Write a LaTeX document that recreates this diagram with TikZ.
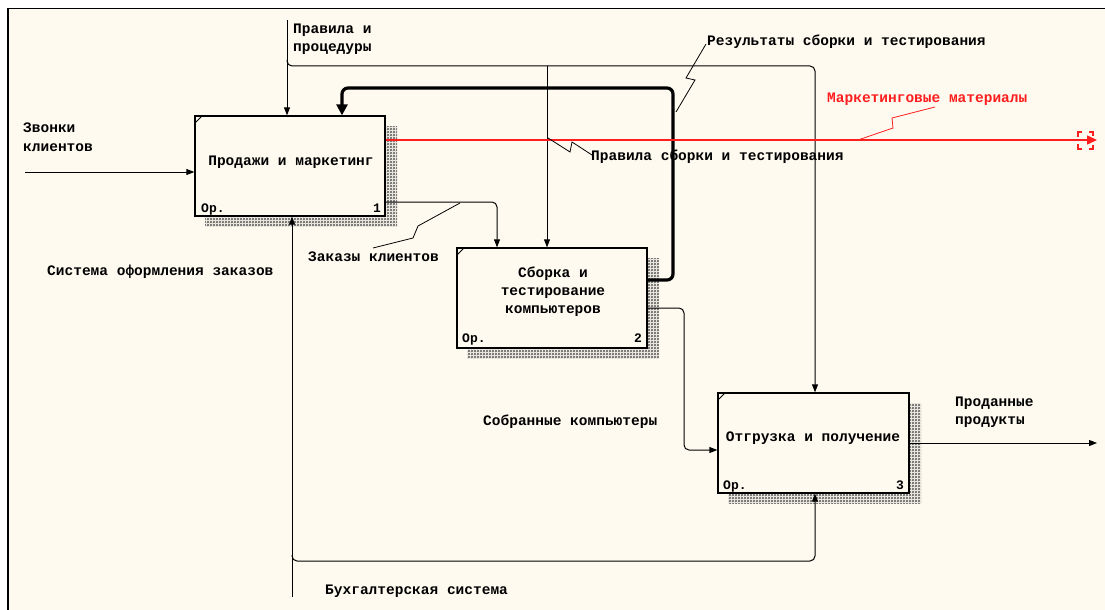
\documentclass[tikz,border=0pt]{standalone}
\usepackage{fontspec}
\setmainfont{Liberation Mono}
\usetikzlibrary{arrows.meta,patterns}
\definecolor{bg}{RGB}{254,250,240}
\definecolor{redl}{RGB}{255,30,30}
\pgfdeclarepatternformonly{dither}{\pgfqpoint{0pt}{0pt}}{\pgfqpoint{3pt}{3pt}}{\pgfqpoint{3pt}{3pt}}{%
  \pgfsetlinewidth{0.6pt}%
  \pgfpathmoveto{\pgfqpoint{0pt}{0pt}}\pgfpathlineto{\pgfqpoint{3pt}{3pt}}%
  \pgfpathmoveto{\pgfqpoint{0pt}{3pt}}\pgfpathlineto{\pgfqpoint{3pt}{0pt}}%
  \pgfusepath{stroke}}
\begin{document}
\begin{tikzpicture}[x=1pt,y=-1pt,
  lbl/.style={font=\fontsize{14.5}{18}\selectfont\bfseries, inner sep=0pt, anchor=base west},
  boxt/.style={font=\fontsize{14.5}{18}\selectfont\bfseries, inner sep=0pt, anchor=base},
  op/.style={font=\fontsize{13}{15}\selectfont\bfseries, inner sep=0pt, anchor=base west},
  num/.style={font=\fontsize{13}{15}\selectfont\bfseries, inner sep=0pt, anchor=base east},
  box/.style={draw, line width=1.3pt, fill=bg, minimum width=190pt, minimum height=100pt, inner sep=0pt},
  shadowbox/.style={pattern=dither, pattern color=black!65},
  arr/.style={line width=1pt, -{Triangle[length=8pt,width=6pt]}},
  thickarr/.style={line width=3.2pt, rounded corners=6pt, -{Triangle[length=11pt,width=11pt]}},
  redarr/.style={line width=1.4pt, draw=redl, fill=redl, -{Triangle[length=10pt,width=9pt,fill=redl]}},
  bracket/.style={draw=redl, line width=1.4pt},
  leader/.style={line width=0.8pt},
  tick/.style={line width=0.8pt}
]
\useasboundingbox (0,0) rectangle (1105,610);
\fill[white] (0,0) rectangle (1105,610);
\fill[bg] (8,8) rectangle (1105,610);
\draw[line width=1.6pt] (7,8.5) -- (1105,8.5);
\draw[line width=1.6pt] (8,8) -- (8,610);

% shadows
\fill[shadowbox] (205,126) rectangle (397,226);
\fill[shadowbox] (467,258) rectangle (659,358);
\fill[shadowbox] (728,403) rectangle (921,503);

% boxes
\node[box] (b1) at (290,166) {};
\node[box] (b2) at (552,298) {};
\node[box, minimum width=191pt] (b3) at (813.5,443) {};
\draw[tick] (195,123) -- (202,116);
\draw[tick] (457,255) -- (464,248);
\draw[tick] (718,400) -- (725,393);

\node[boxt] (t1) at (291,165) {Продажи и маркетинг};
\node[boxt] (t2a) at (553,277) {Сборка и};
\node[boxt] (t2b) at (553,295) {тестирование};
\node[boxt] (t2c) at (553,313) {компьютеров};
\node[boxt] (t3) at (813,441) {Отгрузка и получение};
\node[op] (o1) at (201,212) {Ор.};
\node[num] (n1) at (381,212) {1};
\node[op] (o2) at (462,342) {Ор.};
\node[num] (n2) at (642,342) {2};
\node[op] (o3) at (723,489) {Ор.};
\node[num] (n3) at (904,489) {3};

% coordinates for free ends
\coordinate (zv) at (25,172);
\coordinate (pp) at (287,20);
\coordinate (ppb) at (287,60);
\coordinate (cb2) at (547,66);
\coordinate (mb) at (292,597);
\coordinate (mbb) at (292,555);
\coordinate (redend) at (1097,140);
\coordinate (sold) at (1097,443);

% inputs
\draw[arr] (zv) -- (zv -| b1.west);
% controls
\draw[arr] (pp) -- (pp |- b1.north);
\draw[arr, rounded corners=5pt, line width=1pt] (ppb) -- (287,66) -- (815,66) -- (815,393 |- b3.north);
\draw[arr] (cb2) -- (cb2 |- b2.north);
% feedback
\draw[thickarr] (b2.east |- 0,280) -- (673,280) -- (673,88) -- (342,88) -- (342,88 |- b1.north);
% red output
\draw[redarr] (b1.east |- 0,140) -- (redend);
\draw[bracket] (1082,132) -- (1078,132) -- (1078,137);
\draw[bracket] (1082,149) -- (1078,149) -- (1078,144);
\draw[bracket] (1089,132) -- (1093,132) -- (1093,136);
\draw[bracket] (1089,149) -- (1093,149) -- (1093,145);
% orders
\draw[arr, rounded corners=5pt] (b1.east |- 0,202) -- (497,202) -- (497,202 |- b2.north);
% assembled computers
\draw[arr, rounded corners=5pt] (b2.east |- 0,308) -- (684,308) -- (684,450) -- (b3.west |- 0,450);
% sold products
\draw[arr] (b3.east |- 0,443) -- (sold);
% mechanisms
\draw[arr] (mb) -- (mb |- b1.south);
\draw[arr, rounded corners=5pt] (mbb) -- (292,561) -- (815,561) -- (815,561 |- b3.south);

% leaders
\draw[leader] (676,112) -- (695,80) -- (686,78) -- (706,44);
\draw[leader] (548,138) -- (570,152) -- (572,142) -- (592,155);
\draw[leader, draw=redl] (858,140) -- (893,128) -- (892,118) -- (935,107);
\draw[leader] (373,248) -- (413,238) -- (418,226) -- (460,203);

% labels
\node[lbl] (l1a) at (23,132) {Звонки};
\node[lbl] (l1b) at (23,151) {клиентов};
\node[lbl] (l2a) at (293,34) {Правила и};
\node[lbl] (l2b) at (293,52) {процедуры};
\node[lbl] (l3) at (707,46) {Результаты сборки и тестирования};
\node[lbl, text=redl] (l4) at (827,102) {Маркетинговые материалы};
\node[lbl] (l5) at (591,160) {Правила сборки и тестирования};
\node[lbl] (l6) at (308,261) {Заказы клиентов};
\node[lbl] (l7) at (47,275) {Система оформления заказов};
\node[lbl] (l8) at (483,425) {Собранные компьютеры};
\node[lbl] (l9a) at (955,406) {Проданные};
\node[lbl] (l9b) at (955,424) {продукты};
\node[lbl] (l10) at (325,594) {Бухгалтерская система};
\end{tikzpicture}
\end{document}
